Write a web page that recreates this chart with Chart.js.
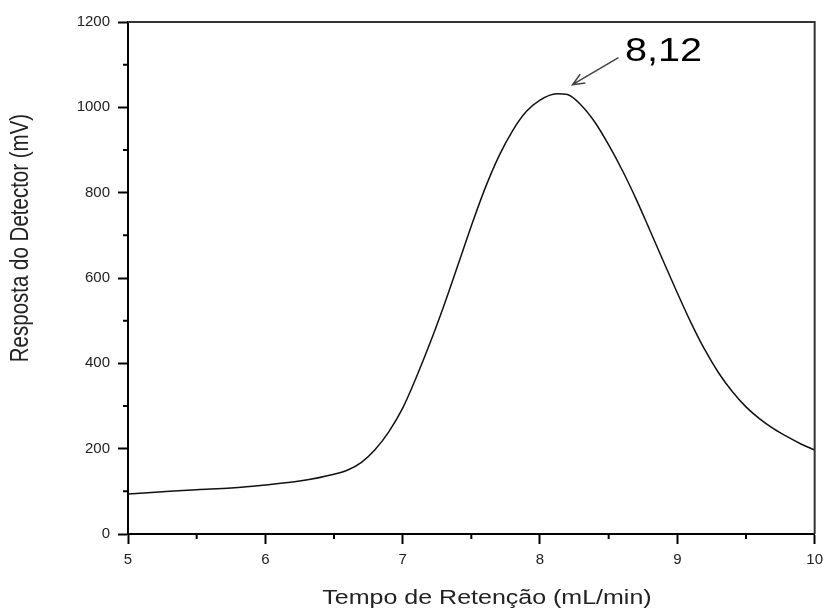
<!DOCTYPE html>
<html>
<head>
<meta charset="utf-8">
<script src="https://cdn.jsdelivr.net/npm/chart.js@4/dist/chart.umd.min.js"></script>
<style>
  html, body { margin: 0; padding: 0; background: #fff; }
</style>
</head>
<body>
<canvas id="cvsCromatograma" width="830" height="610"></canvas>
<script>
// cromatograma: resposta do detector x tempo de retenção
const tempo = [5.0, 5.25, 5.5, 5.75, 6.0, 6.25, 6.5, 6.6, 6.7, 6.8, 6.9, 7.0, 7.1, 7.2, 7.3, 7.4, 7.5, 7.6, 7.7, 7.8, 7.9, 8.0, 8.12, 8.2, 8.3, 8.4, 8.5, 8.6, 8.7, 8.8, 8.9, 9.0, 9.1, 9.2, 9.3, 9.4, 9.5, 9.6, 9.7, 9.8, 9.9, 10.0];
const resposta = [94, 99, 104, 108, 115, 124, 140, 150, 168, 198, 240, 295, 368, 448, 535, 628, 722, 810, 885, 945, 990, 1017, 1032, 1030, 1005, 965, 912, 852, 785, 712, 638, 565, 495, 432, 378, 334, 298, 270, 247, 228, 211, 197];
const ticksTempo = [5, 6, 7, 8, 9, 10];
const ticksResposta = [0, 200, 400, 600, 800, 1000, 1200];
const picoTempo = 8.12;
const picoTexto = '8,12';

const fonte = '"Liberation Sans", Arial, sans-serif';

// texto esticado na horizontal, como no gráfico original
function textoLargo(ctx, txt, x, y, tam, esc, rot) {
  ctx.save();
  ctx.translate(x, y);
  if (rot) {
    ctx.rotate(-Math.PI / 2);
    ctx.scale(1, esc);
  } else {
    ctx.scale(esc, 1);
  }
  ctx.font = `${tam}px ${fonte}`;
  ctx.textAlign = 'center';
  ctx.textBaseline = 'alphabetic';
  ctx.fillText(txt, 0, 0);
  ctx.restore();
}

const extras = {
  id: 'extras',
  afterDraw(chart) {
    const { ctx, chartArea: a, scales: { x, y } } = chart;
    ctx.save();

    // moldura em cima e à direita
    ctx.strokeStyle = '#333';
    ctx.lineWidth = 2;
    ctx.beginPath();
    ctx.moveTo(a.left, a.top);
    ctx.lineTo(a.right, a.top);
    ctx.lineTo(a.right, a.bottom);
    ctx.stroke();

    // ticks menores
    ctx.strokeStyle = '#000';
    ctx.beginPath();
    for (let i = 0; i < ticksTempo.length - 1; i++) {
      const px = x.getPixelForValue((ticksTempo[i] + ticksTempo[i + 1]) / 2);
      ctx.moveTo(px, a.bottom);
      ctx.lineTo(px, a.bottom + 5);
    }
    for (let i = 0; i < ticksResposta.length - 1; i++) {
      const py = y.getPixelForValue((ticksResposta[i] + ticksResposta[i + 1]) / 2);
      ctx.moveTo(a.left, py);
      ctx.lineTo(a.left - 5, py);
    }
    ctx.stroke();

    // títulos dos eixos
    ctx.fillStyle = '#222';
    textoLargo(ctx, 'Tempo de Retenção (mL/min)', 487, 604, 20, 1.25, false);
    textoLargo(ctx, 'Resposta do Detector (mV)', 28, 238, 20.5, 1.25, true);

    // seta e rótulo do pico
    const iPico = tempo.indexOf(picoTempo);
    const px = x.getPixelForValue(picoTempo) + 16;
    const py = y.getPixelForValue(resposta[iPico]) - 9;
    const ox = px + 46, oy = py - 27;
    const ang = Math.atan2(py - oy, px - ox);
    ctx.strokeStyle = '#444';
    ctx.lineWidth = 1.5;
    ctx.beginPath();
    ctx.moveTo(ox, oy);
    ctx.lineTo(px, py);
    ctx.moveTo(px - 13 * Math.cos(ang - 0.4), py - 13 * Math.sin(ang - 0.4));
    ctx.lineTo(px, py);
    ctx.lineTo(px - 13 * Math.cos(ang + 0.4), py - 13 * Math.sin(ang + 0.4));
    ctx.stroke();
    ctx.fillStyle = '#000';
    textoLargo(ctx, picoTexto, px + 91, py - 24, 33, 1.2, false);

    ctx.restore();
  }
};

const cvsCromatograma = document.getElementById('cvsCromatograma');
new Chart(cvsCromatograma, {
  type: 'line',
  data: {
    datasets: [{
      data: tempo.map((t, i) => ({ x: t, y: resposta[i] })),
      borderColor: '#111',
      borderWidth: 1.5,
      pointRadius: 0,
      fill: false,
      cubicInterpolationMode: 'monotone'
    }]
  },
  options: {
    responsive: false,
    animation: false,
    layout: { padding: { top: 22, right: 8, left: 0, bottom: 0 } },
    plugins: {
      legend: { display: false },
      tooltip: { enabled: false }
    },
    scales: {
      x: {
        type: 'linear',
        min: 5,
        max: 10,
        afterFit: s => { s.height = 76; },
        afterBuildTicks: s => { s.ticks = ticksTempo.map(v => ({ value: v })); },
        ticks: {
          font: { family: fonte, size: 15 },
          color: '#222',
          padding: 7,
          maxRotation: 0,
          autoSkip: false,
          callback: v => String(v)
        },
        grid: { drawOnChartArea: false, tickLength: 10, tickWidth: 2, tickColor: '#000' },
        border: { color: '#000', width: 2 }
      },
      y: {
        min: 0,
        max: 1200,
        afterFit: s => { s.width = 128; },
        afterBuildTicks: s => { s.ticks = ticksResposta.map(v => ({ value: v })); },
        ticks: {
          font: { family: fonte, size: 15 },
          color: '#222',
          padding: 8,
          autoSkip: false,
          callback: v => String(v)
        },
        grid: { drawOnChartArea: false, tickLength: 10, tickWidth: 2, tickColor: '#000' },
        border: { color: '#000', width: 2 }
      }
    }
  },
  plugins: [extras]
});
</script>
</body>
</html>
